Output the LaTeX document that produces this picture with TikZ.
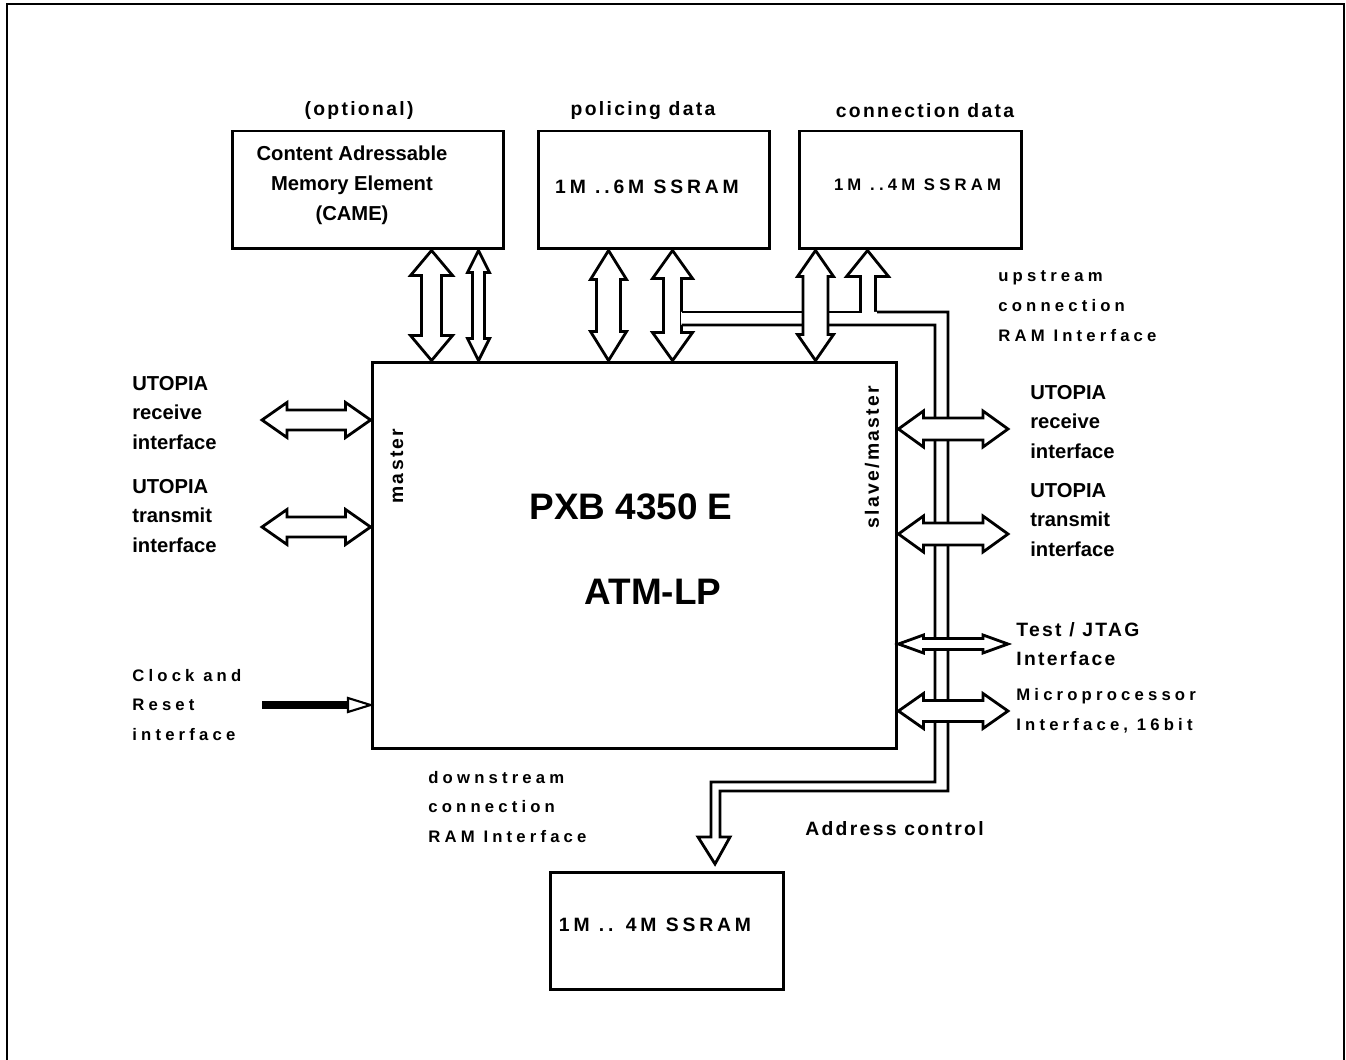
\documentclass[tikz,border=0pt]{standalone}
\usepackage{fontspec}
\setmainfont{Liberation Sans}
\newfontfamily\medsp[LetterSpace=12]{Liberation Sans}
\newfontfamily\widesp[LetterSpace=20]{Liberation Sans}
\newfontfamily\smallsp[LetterSpace=25]{Liberation Sans}
\usetikzlibrary{calc}

\tikzset{
  membox/.style={
    draw, line width=1.7pt, minimum height=2.36cm, inner sep=0pt
  },
  chipbox/.style={
    draw, line width=1.7pt, minimum width=10.5cm,
    minimum height=7.74cm, inner sep=0pt
  },
  blockarrow/.style={draw, fill=white, line width=1.6pt},
  busline/.style={draw, line width=1.6pt},
  busfill/.style={fill=white},
  clockline/.style={line width=4pt},
  frameline/.style={line width=1.1pt},
  lbl/.style={
    font=\bfseries\fontsize{11.5}{17}\selectfont,
    align=left, inner sep=0pt, anchor=west
  },
  smalllbl/.style={
    font=\smallsp\bfseries\fontsize{9.5}{17}\selectfont,
    align=left, inner sep=0pt, anchor=west
  },
  medlbl/.style={
    font=\medsp\bfseries\fontsize{11}{16.5}\selectfont,
    align=left, inner sep=0pt
  },
  ramlbl/.style={
    font=\widesp\bfseries\fontsize{11}{13}\selectfont, inner sep=0pt
  },
  chiplbl/.style={
    font=\bfseries\fontsize{21}{25}\selectfont, inner sep=0pt
  },
}

% vertical double block arrow: top tip, anchor of bottom tip,
% shaft half width, head half width, head length
\newcommand\vdbl[5]{%
  \coordinate (t) at #1;
  \coordinate (b) at (t |- #2);
  \draw[blockarrow] (t) -- ++(#4,#5) -- ++(#3-#4,0) -- ($(b)+(#3,-#5)$)
    -- ++(#4-#3,0) -- (b) -- ++(-#4,-#5) -- ++(#4-#3,0)
    -- ($(t)+(-#3,#5)$) -- ++(#3-#4,0) -- cycle;
}
% horizontal double block arrow: left tip, right tip,
% shaft half width, head half width, head length
\newcommand\hdbl[5]{%
  \coordinate (l) at #1;
  \coordinate (r) at #2;
  \draw[blockarrow] (l) -- ++(#5,-#4) -- ++(0,#4-#3) -- ($(r)+(-#5,-#3)$)
    -- ++(0,#3-#4) -- (r) -- ++(-#5,#4) -- ++(0,#3-#4)
    -- ($(l)+(#5,#3)$) -- ++(0,#4-#3) -- cycle;
}

\begin{document}
\begin{tikzpicture}[x=0.02cm, y=-0.02cm]

  \useasboundingbox (0,0) rectangle (1346,1060);
  \draw[frameline] (7,1060) -- (7,4) -- (1344,4) -- (1344,1060);

  %% Memories
  \node[membox, minimum width=5.44cm] (came) at (368,190) {};
  \node[membox, minimum width=4.64cm] (police) at (654,190) {};
  \node[membox, minimum width=4.46cm] (conn) at (910.5,190) {};
  \node[membox, minimum width=4.68cm] (sram) at (667,931) {};

  \node[lbl, anchor=center, align=center] (cametxt)
    at ($(came.center)+(-16,-5)$)
    {Content Adressable\\Memory Element\\(CAME)};
  \node[ramlbl] (poltxt) at ($(police.center)+(-7,-3)$) {1M ..6M SSRAM};
  \node[smalllbl, anchor=center] (contxt)
    at ($(conn.center)+(7,-5)$) {1M ..4M SSRAM};
  \node[ramlbl] (sramtxt) at ($(sram.center)+(-12,-6)$) {1M .. 4M SSRAM};

  \node[medlbl] (opt) at (359,111) {(optional)};
  \node[medlbl] (poldat) at (643,111) {policing data};
  \node[medlbl] (condat) at (925,111) {connection data};

  %% Chip
  \node[chipbox] (chip) at (634.5,555.5) {};
  \node[chiplbl] (pxb) at (631,507) {PXB 4350 E};
  \node[chiplbl] (atm) at (653,592) {ATM-LP};
  \node[medlbl, rotate=90] (mst) at (397,466) {master};
  \node[medlbl, rotate=90] (slv) at (872,457) {slave/master};

  %% Arrows to the memories
  \vdbl{($(came.south west)+(201,0)$)}{chip.north}{10}{21}{25}
  \vdbl{($(came.south west)+(248,0)$)}{chip.north}{6}{11}{22}
  \vdbl{($(police.south west)+(72,0)$)}{chip.north}{12}{18}{29}
  \vdbl{($(police.south west)+(136,0)$)}{chip.north}{9}{20}{28}

  \coordinate (c2) at ($(conn.south west)+(70,0)$);
  \draw[busline] ($(c2)+(-7,63)$) -- ++(0,-37) -- ++(-14,0) -- (c2)
    -- ++(21,26) -- ++(-13,0) -- ++(0,37);

  %% Address bus
  \fill[busfill] (681,312) -- (948,312) -- (948,791) -- (720,791)
    -- (720,837) -- (730,837) -- (715,864) -- (698,837) -- (711,837)
    -- (711,782) -- (935,782) -- (935,325) -- (681,325) -- cycle;
  \draw[busline] (681.5,312) -- (862,312);
  \draw[busline] (877,312) -- (948,312) -- (948,791) -- (720,791)
    -- (720,837) -- (730,837) -- (715,864) -- (698,837) -- (711,837)
    -- (711,782) -- (935,782) -- (935,325) -- (681.5,325);

  \vdbl{($(conn.south west)+(18,0)$)}{chip.north}{12.5}{18}{26}

  %% Left side
  \coordinate (rxl) at (262,420);
  \coordinate (txl) at (262,527);
  \coordinate (clk) at (262,705);
  \hdbl{(rxl)}{(rxl -| chip.west)}{10}{17.5}{25}
  \hdbl{(txl)}{(txl -| chip.west)}{10}{17.5}{25}
  \draw[clockline] (clk) -- ++(86,0);
  \draw[blockarrow, line width=1.2pt] ($(clk)+(86,-7)$)
    -- (clk -| chip.west) -- ($(clk)+(86,7)$) -- cycle;

  %% Right side
  \coordinate (rxr) at (1008,429);
  \coordinate (txr) at (1008,534);
  \coordinate (jtag) at (1008,644);
  \coordinate (upi) at (1008,711);
  \hdbl{(rxr -| chip.east)}{(rxr)}{11}{18}{25}
  \hdbl{(txr -| chip.east)}{(txr)}{11}{18}{25}
  \hdbl{(jtag -| chip.east)}{(jtag)}{5.5}{9}{25}
  \hdbl{(upi -| chip.east)}{(upi)}{10.5}{17.5}{25}

  %% Labels
  \node[lbl] (rxltxt) at (132,413) {UTOPIA\\receive\\interface};
  \node[lbl] (txltxt) at (132,516) {UTOPIA\\transmit\\interface};
  \node[smalllbl] (clktxt) at (132,705) {Clock and\\Reset\\interface};
  \node[lbl] (rxrtxt) at (1030,422) {UTOPIA\\receive\\interface};
  \node[lbl] (txrtxt) at (1030,520) {UTOPIA\\transmit\\interface};
  \node[medlbl, anchor=west] (jtagtxt) at (1016,644) {Test / JTAG\\Interface};
  \node[smalllbl] (upitxt) at (1016,711) {Microprocessor\\Interface, 16bit};
  \node[smalllbl] (uptxt) at (998,306) {upstream\\connection\\RAM Interface};
  \node[smalllbl] (dntxt) at (428,807) {downstream\\connection\\RAM Interface};
  \node[medlbl, anchor=west] (adrtxt) at (805,829) {Address control};

\end{tikzpicture}
\end{document}
